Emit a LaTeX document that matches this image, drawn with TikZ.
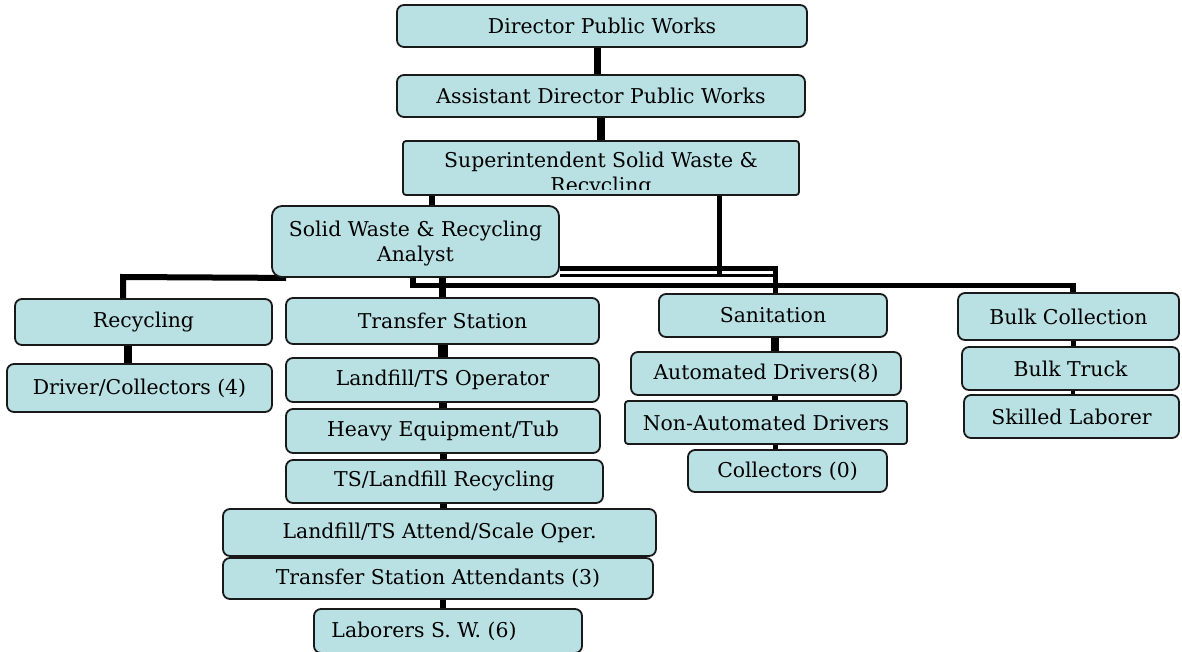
\documentclass[tikz,border=0pt]{standalone}
\usepackage{fontspec}
\setmainfont{DejaVu Serif}
\usetikzlibrary{backgrounds}
\definecolor{boxfill}{RGB}{185,224,227}
\newcommand{\boxfont}{\fontsize{20.4}{25}\selectfont}
\begin{document}
\begin{tikzpicture}[x=1pt,y=-1pt,
  box/.style={draw=black!90, line width=1.8pt, fill=boxfill, rounded corners=7pt,
              inner sep=0pt, font=\boxfont, align=center},
  conn/.style={draw=black, line width=#1},
  conn/.default=6pt]
\useasboundingbox (0,0) rectangle (1182,651);

% management chain
\node[box, minimum width=410, minimum height=42] (dir)  at (602,26)  {Director Public Works};
\node[box, minimum width=408, minimum height=42] (asst) at (601,96)  {Assistant Director Public Works};
\node[box, rounded corners=3pt, minimum width=396, minimum height=54] (supt) at (601,168) {};
\begin{scope}
  \clip (403,141) rectangle (799,189);
  \node[font=\boxfont, align=center, inner sep=0pt] (supttext) at (601,174.4)
    {Superintendent Solid Waste \&\\Recycling};
\end{scope}
\node[box, rounded corners=10pt, minimum width=287, minimum height=71] (anl) at (415.5,241.5)
  {\rule{0pt}{20pt}Solid Waste \& Recycling\\Analyst};

% recycling
\node[box, minimum width=257, minimum height=46] (rec) at (143.5,322) {Recycling};
\node[box, minimum width=265, minimum height=48] (drv) at (139.5,388) {Driver/Collectors (4)};

% transfer station
\node[box, minimum width=313, minimum height=46] (ts)  at (442.5,321)   {Transfer Station};
\node[box, minimum width=313, minimum height=44] (lop) at (442.5,380)   {Landfill/TS Operator};
\node[box, minimum width=314, minimum height=44] (heq) at (443,431)     {Heavy Equipment/Tub};
\node[box, minimum width=317, minimum height=43] (tsl) at (444.5,481.5) {TS/Landfill Recycling};
\node[box, minimum width=433, minimum height=47] (lat) at (439.5,532.5) {Landfill/TS Attend/Scale Oper.};
\node[box, minimum width=430, minimum height=41] (tsa) at (438,578.5)   {Transfer Station Attendants (3)};
\node[box, minimum width=268, minimum height=44] (lab) at (448,631)     {\hspace*{-48pt}Laborers S. W. (6)};

% sanitation
\node[box, minimum width=228, minimum height=43] (san) at (773,315.5) {Sanitation};
\node[box, minimum width=270, minimum height=43] (aut) at (766,373.5) {Automated Drivers(8)};
\node[box, rounded corners=3pt, minimum width=282, minimum height=43] (nad) at (766,422.5) {Non-Automated Drivers};
\node[box, minimum width=199, minimum height=42] (col) at (787.5,471) {Collectors (0)};

% bulk collection
\node[box, minimum width=221, minimum height=47] (blk) at (1068.5,316.5) {Bulk Collection};
\node[box, minimum width=217, minimum height=43] (btr) at (1070.5,368.5) {Bulk Truck};
\node[box, minimum width=215, minimum height=43] (skl) at (1071.5,416.5) {Skilled Laborer};

% junction points of the connectors
\coordinate (kSA) at (432,0);
\coordinate (kS)  at (719,275.5);
\coordinate (kA)  at (775,268.5);
\coordinate (kB)  at (775,275.5);
\coordinate (kC1) at (413,285.5);
\coordinate (kC2) at (1073,285.5);
\coordinate (kR)  at (123,277);
\coordinate (kD)  at (128,0);
\coordinate (kT)  at (443,0);
\coordinate (kN)  at (775,0);
\coordinate (kK)  at (1073,0);

\begin{scope}[on background layer]
  \draw[conn=7pt] ([xshift=-5]dir.south) -- ([xshift=-4]asst.north);
  \draw[conn=8pt] (asst.south) -- (supt.north);
  \draw[conn=6pt] (supt.south -| kSA) -- (anl.north -| kSA);
  \draw[conn=5pt] (supt.south -| kS) -- (kS);
  % analyst to the four sections
  \draw[conn=5pt]   (anl.east |- kA) -- (kA) -- (kA |- san.north);
  \draw[conn=2.5pt] (anl.east |- kB) -- (kB);
  \draw[conn=5.5pt] (anl.south -| kC1) -- (kC1) -- (kC2) -- (kC2 |- blk.north);
  \draw[conn=7pt]   (anl.south -| ts.north) -- (ts.north);
  \draw[conn=6pt]   ([xshift=15]anl.south west) -- (kR) -- (kR |- rec.north);
  % inside the sections
  \draw[conn=8pt]  (rec.south -| kD) -- (drv.north -| kD);
  \draw[conn=10pt] (ts.south -| kT)  -- (lop.north -| kT);
  \draw[conn=8pt]  (lop.south -| kT) -- (heq.north -| kT);
  \draw[conn=7pt]  (heq.south -| kT) -- (tsl.north -| kT);
  \draw[conn=7pt]  (tsl.south -| kT) -- (lat.north -| kT);
  \draw[conn=6pt]  (lat.south -| kT) -- (tsa.north -| kT);
  \draw[conn=6pt]  (tsa.south -| kT) -- (lab.north -| kT);
  \draw[conn=8pt]  (san.south -| kN) -- (aut.north -| kN);
  \draw[conn=6pt]  (aut.south -| kN) -- (nad.north -| kN);
  \draw[conn=5pt]  (nad.south -| kN) -- (col.north -| kN);
  \draw[conn=5pt]  (blk.south -| kK) -- (btr.north -| kK);
  \draw[conn=4pt]  (btr.south -| kK) -- (skl.north -| kK);
\end{scope}
\end{tikzpicture}
\end{document}
